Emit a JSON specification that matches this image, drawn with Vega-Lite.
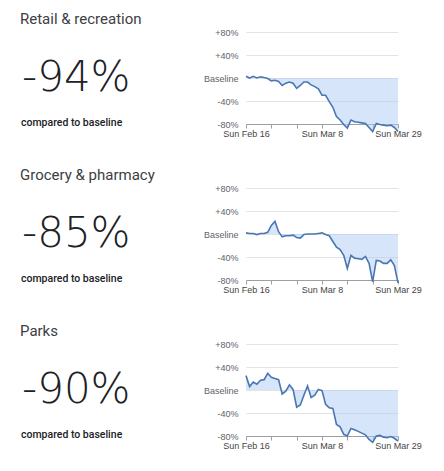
{
  "$schema": "https://vega.github.io/schema/vega-lite/v6.json",
  "padding": {"left": 20, "top": 12, "right": 5, "bottom": 5},
  "background": "white",
  "spacing": 30,
  "config": {
    "view": {"stroke": null},
    "axis": {"labelFont": "Liberation Sans", "labelFontSize": 9, "labelColor": "#5f6368", "title": null},
    "title": {"anchor": "start", "font": "Roboto", "fontSize": 15, "fontWeight": 400, "color": "#3c4043", "offset": 5}
  },
  "datasets": {
    "retail": [
      {"date": "2020-02-16", "v": 3}, {"date": "2020-02-17", "v": 0}, {"date": "2020-02-18", "v": 3}, {"date": "2020-02-19", "v": 0},
      {"date": "2020-02-20", "v": 2}, {"date": "2020-02-21", "v": 1}, {"date": "2020-02-22", "v": -1}, {"date": "2020-02-23", "v": -5},
      {"date": "2020-02-24", "v": -4}, {"date": "2020-02-25", "v": -6}, {"date": "2020-02-26", "v": -13}, {"date": "2020-02-27", "v": -9},
      {"date": "2020-02-28", "v": -7}, {"date": "2020-02-29", "v": -9}, {"date": "2020-03-01", "v": -18}, {"date": "2020-03-02", "v": -13},
      {"date": "2020-03-03", "v": -7}, {"date": "2020-03-04", "v": -7}, {"date": "2020-03-05", "v": -12}, {"date": "2020-03-06", "v": -15},
      {"date": "2020-03-07", "v": -19}, {"date": "2020-03-08", "v": -30}, {"date": "2020-03-09", "v": -30}, {"date": "2020-03-10", "v": -41},
      {"date": "2020-03-11", "v": -51}, {"date": "2020-03-12", "v": -67}, {"date": "2020-03-13", "v": -73}, {"date": "2020-03-14", "v": -81},
      {"date": "2020-03-15", "v": -87}, {"date": "2020-03-16", "v": -73}, {"date": "2020-03-17", "v": -76}, {"date": "2020-03-18", "v": -77},
      {"date": "2020-03-19", "v": -78}, {"date": "2020-03-20", "v": -79}, {"date": "2020-03-21", "v": -86}, {"date": "2020-03-22", "v": -93},
      {"date": "2020-03-23", "v": -79}, {"date": "2020-03-24", "v": -81}, {"date": "2020-03-25", "v": -82}, {"date": "2020-03-26", "v": -83},
      {"date": "2020-03-27", "v": -82}, {"date": "2020-03-28", "v": -86}, {"date": "2020-03-29", "v": -93}
    ],
    "grocery": [
      {"date": "2020-02-16", "v": 2}, {"date": "2020-02-17", "v": 1}, {"date": "2020-02-18", "v": 1}, {"date": "2020-02-19", "v": -1},
      {"date": "2020-02-20", "v": 1}, {"date": "2020-02-21", "v": 1}, {"date": "2020-02-22", "v": 3}, {"date": "2020-02-23", "v": 15},
      {"date": "2020-02-24", "v": 22}, {"date": "2020-02-25", "v": 4}, {"date": "2020-02-26", "v": -5}, {"date": "2020-02-27", "v": -3},
      {"date": "2020-02-28", "v": -3}, {"date": "2020-02-29", "v": -2}, {"date": "2020-03-01", "v": -6}, {"date": "2020-03-02", "v": -7},
      {"date": "2020-03-03", "v": -1}, {"date": "2020-03-04", "v": 0}, {"date": "2020-03-05", "v": 0}, {"date": "2020-03-06", "v": 0},
      {"date": "2020-03-07", "v": 1}, {"date": "2020-03-08", "v": 2}, {"date": "2020-03-09", "v": -1}, {"date": "2020-03-10", "v": -3},
      {"date": "2020-03-11", "v": -13}, {"date": "2020-03-12", "v": -23}, {"date": "2020-03-13", "v": -27}, {"date": "2020-03-14", "v": -37},
      {"date": "2020-03-15", "v": -60}, {"date": "2020-03-16", "v": -37}, {"date": "2020-03-17", "v": -42}, {"date": "2020-03-18", "v": -43},
      {"date": "2020-03-19", "v": -44}, {"date": "2020-03-20", "v": -39}, {"date": "2020-03-21", "v": -51}, {"date": "2020-03-22", "v": -83},
      {"date": "2020-03-23", "v": -46}, {"date": "2020-03-24", "v": -47}, {"date": "2020-03-25", "v": -51}, {"date": "2020-03-26", "v": -51},
      {"date": "2020-03-27", "v": -45}, {"date": "2020-03-28", "v": -55}, {"date": "2020-03-29", "v": -85}
    ],
    "parks": [
      {"date": "2020-02-16", "v": 25}, {"date": "2020-02-17", "v": 6}, {"date": "2020-02-18", "v": 14}, {"date": "2020-02-19", "v": 10},
      {"date": "2020-02-20", "v": 17}, {"date": "2020-02-21", "v": 18}, {"date": "2020-02-22", "v": 29}, {"date": "2020-02-23", "v": 22},
      {"date": "2020-02-24", "v": 20}, {"date": "2020-02-25", "v": 18}, {"date": "2020-02-26", "v": -7}, {"date": "2020-02-27", "v": -2},
      {"date": "2020-02-28", "v": 9}, {"date": "2020-02-29", "v": 1}, {"date": "2020-03-01", "v": -30}, {"date": "2020-03-02", "v": -26},
      {"date": "2020-03-03", "v": -9}, {"date": "2020-03-04", "v": 7}, {"date": "2020-03-05", "v": -13}, {"date": "2020-03-06", "v": -9},
      {"date": "2020-03-07", "v": 1}, {"date": "2020-03-08", "v": -1}, {"date": "2020-03-09", "v": -25}, {"date": "2020-03-10", "v": -31},
      {"date": "2020-03-11", "v": -32}, {"date": "2020-03-12", "v": -60}, {"date": "2020-03-13", "v": -64}, {"date": "2020-03-14", "v": -77},
      {"date": "2020-03-15", "v": -80}, {"date": "2020-03-16", "v": -67}, {"date": "2020-03-17", "v": -69}, {"date": "2020-03-18", "v": -72},
      {"date": "2020-03-19", "v": -75}, {"date": "2020-03-20", "v": -78}, {"date": "2020-03-21", "v": -86}, {"date": "2020-03-22", "v": -91},
      {"date": "2020-03-23", "v": -80}, {"date": "2020-03-24", "v": -79}, {"date": "2020-03-25", "v": -82}, {"date": "2020-03-26", "v": -83},
      {"date": "2020-03-27", "v": -81}, {"date": "2020-03-28", "v": -84}, {"date": "2020-03-29", "v": -89}
    ],
    "summary": [
      {"cat": "retail", "big": "-94%", "cap": "compared to baseline"},
      {"cat": "grocery", "big": "-85%", "cap": "compared to baseline"},
      {"cat": "parks", "big": "-90%", "cap": "compared to baseline"}
    ]
  },
  "vconcat": [
    {
      "bounds": "flush",
      "spacing": 46,
      "hconcat": [
        {
          "width": 180, "height": 92,
          "title": {"text": "Retail & recreation"},
          "data": {"name": "summary"},
          "transform": [{"filter": "datum.cat === 'retail'"}],
          "layer": [
            {"mark": {"type": "text", "align": "left", "baseline": "middle", "font": "DejaVu Sans", "fontWeight": 200, "fontSize": 42, "color": "#202124"},
             "encoding": {"text": {"field": "big"}, "x": {"value": 2}, "y": {"datum": 0, "type": "quantitative", "scale": {"domain": [-80, 80], "nice": false}, "axis": null}}},
            {"mark": {"type": "text", "align": "left", "baseline": "middle", "font": "Roboto", "fontWeight": 500, "fontSize": 10.5, "color": "#202124", "dy": -1.5},
             "encoding": {"text": {"field": "cap"}, "x": {"value": 1}, "y": {"datum": -80, "type": "quantitative"}}}
          ]
        },
        {
          "width": 152, "height": 92,
          "data": {"name": "retail"},
          "encoding": {
            "x": {"field": "date", "type": "temporal", "scale": {"type": "utc"},
                  "axis": {"values": [{"year": 2020, "month": 2, "date": 16, "utc": true}, {"year": 2020, "month": 2, "date": 23, "utc": true}, {"year": 2020, "month": 3, "date": 1, "utc": true}, {"year": 2020, "month": 3, "date": 8, "utc": true}, {"year": 2020, "month": 3, "date": 15, "utc": true}, {"year": 2020, "month": 3, "date": 22, "utc": true}, {"year": 2020, "month": 3, "date": 29, "utc": true}],
                           "format": "%a %b %-d", "labelExpr": "round(datum.index * 6) % 3 === 0 ? datum.label : ''", "labelFlush": false, "labelOverlap": false, "grid": false, "domainColor": "#9aa0a6", "tickColor": "#9aa0a6", "tickSize": 4, "labelPadding": 1, "labelColor": "#444"}},
            "y": {"field": "v", "type": "quantitative", "scale": {"domain": [-80, 80], "nice": false},
                  "axis": {"values": [-80, -40, 0, 40, 80], "labelExpr": "datum.value === 0 ? 'Baseline' : (datum.value > 0 ? '+' : '') + datum.value + '%'", "grid": true, "gridColor": "#e3e3e3", "domain": false, "ticks": false, "labelPadding": 8}}
          },
          "layer": [
            {"mark": {"type": "area", "color": "#aecbf5", "opacity": 0.5, "clip": false}, "encoding": {"y2": {"datum": 0}}},
            {"mark": {"type": "line", "color": "#4a76b2", "strokeWidth": 1.6, "clip": false}}
          ]
        }
      ]
    },
    {
      "bounds": "flush",
      "spacing": 46,
      "hconcat": [
        {
          "width": 180, "height": 92,
          "title": {"text": "Grocery & pharmacy"},
          "data": {"name": "summary"},
          "transform": [{"filter": "datum.cat === 'grocery'"}],
          "layer": [
            {"mark": {"type": "text", "align": "left", "baseline": "middle", "font": "DejaVu Sans", "fontWeight": 200, "fontSize": 42, "color": "#202124"},
             "encoding": {"text": {"field": "big"}, "x": {"value": 2}, "y": {"datum": 0, "type": "quantitative", "scale": {"domain": [-80, 80], "nice": false}, "axis": null}}},
            {"mark": {"type": "text", "align": "left", "baseline": "middle", "font": "Roboto", "fontWeight": 500, "fontSize": 10.5, "color": "#202124", "dy": -1.5},
             "encoding": {"text": {"field": "cap"}, "x": {"value": 1}, "y": {"datum": -80, "type": "quantitative"}}}
          ]
        },
        {
          "width": 152, "height": 92,
          "data": {"name": "grocery"},
          "encoding": {
            "x": {"field": "date", "type": "temporal", "scale": {"type": "utc"},
                  "axis": {"values": [{"year": 2020, "month": 2, "date": 16, "utc": true}, {"year": 2020, "month": 2, "date": 23, "utc": true}, {"year": 2020, "month": 3, "date": 1, "utc": true}, {"year": 2020, "month": 3, "date": 8, "utc": true}, {"year": 2020, "month": 3, "date": 15, "utc": true}, {"year": 2020, "month": 3, "date": 22, "utc": true}, {"year": 2020, "month": 3, "date": 29, "utc": true}],
                           "format": "%a %b %-d", "labelExpr": "round(datum.index * 6) % 3 === 0 ? datum.label : ''", "labelFlush": false, "labelOverlap": false, "grid": false, "domainColor": "#9aa0a6", "tickColor": "#9aa0a6", "tickSize": 4, "labelPadding": 1, "labelColor": "#444"}},
            "y": {"field": "v", "type": "quantitative", "scale": {"domain": [-80, 80], "nice": false},
                  "axis": {"values": [-80, -40, 0, 40, 80], "labelExpr": "datum.value === 0 ? 'Baseline' : (datum.value > 0 ? '+' : '') + datum.value + '%'", "grid": true, "gridColor": "#e3e3e3", "domain": false, "ticks": false, "labelPadding": 8}}
          },
          "layer": [
            {"mark": {"type": "area", "color": "#aecbf5", "opacity": 0.5, "clip": false}, "encoding": {"y2": {"datum": 0}}},
            {"mark": {"type": "line", "color": "#4a76b2", "strokeWidth": 1.6, "clip": false}}
          ]
        }
      ]
    },
    {
      "bounds": "flush",
      "spacing": 46,
      "hconcat": [
        {
          "width": 180, "height": 92,
          "title": {"text": "Parks"},
          "data": {"name": "summary"},
          "transform": [{"filter": "datum.cat === 'parks'"}],
          "layer": [
            {"mark": {"type": "text", "align": "left", "baseline": "middle", "font": "DejaVu Sans", "fontWeight": 200, "fontSize": 42, "color": "#202124"},
             "encoding": {"text": {"field": "big"}, "x": {"value": 2}, "y": {"datum": 0, "type": "quantitative", "scale": {"domain": [-80, 80], "nice": false}, "axis": null}}},
            {"mark": {"type": "text", "align": "left", "baseline": "middle", "font": "Roboto", "fontWeight": 500, "fontSize": 10.5, "color": "#202124", "dy": -1.5},
             "encoding": {"text": {"field": "cap"}, "x": {"value": 1}, "y": {"datum": -80, "type": "quantitative"}}}
          ]
        },
        {
          "width": 152, "height": 92,
          "data": {"name": "parks"},
          "encoding": {
            "x": {"field": "date", "type": "temporal", "scale": {"type": "utc"},
                  "axis": {"values": [{"year": 2020, "month": 2, "date": 16, "utc": true}, {"year": 2020, "month": 2, "date": 23, "utc": true}, {"year": 2020, "month": 3, "date": 1, "utc": true}, {"year": 2020, "month": 3, "date": 8, "utc": true}, {"year": 2020, "month": 3, "date": 15, "utc": true}, {"year": 2020, "month": 3, "date": 22, "utc": true}, {"year": 2020, "month": 3, "date": 29, "utc": true}],
                           "format": "%a %b %-d", "labelExpr": "round(datum.index * 6) % 3 === 0 ? datum.label : ''", "labelFlush": false, "labelOverlap": false, "grid": false, "domainColor": "#9aa0a6", "tickColor": "#9aa0a6", "tickSize": 4, "labelPadding": 1, "labelColor": "#444"}},
            "y": {"field": "v", "type": "quantitative", "scale": {"domain": [-80, 80], "nice": false},
                  "axis": {"values": [-80, -40, 0, 40, 80], "labelExpr": "datum.value === 0 ? 'Baseline' : (datum.value > 0 ? '+' : '') + datum.value + '%'", "grid": true, "gridColor": "#e3e3e3", "domain": false, "ticks": false, "labelPadding": 8}}
          },
          "layer": [
            {"mark": {"type": "area", "color": "#aecbf5", "opacity": 0.5, "clip": false}, "encoding": {"y2": {"datum": 0}}},
            {"mark": {"type": "line", "color": "#4a76b2", "strokeWidth": 1.6, "clip": false}}
          ]
        }
      ]
    }
  ]
}
